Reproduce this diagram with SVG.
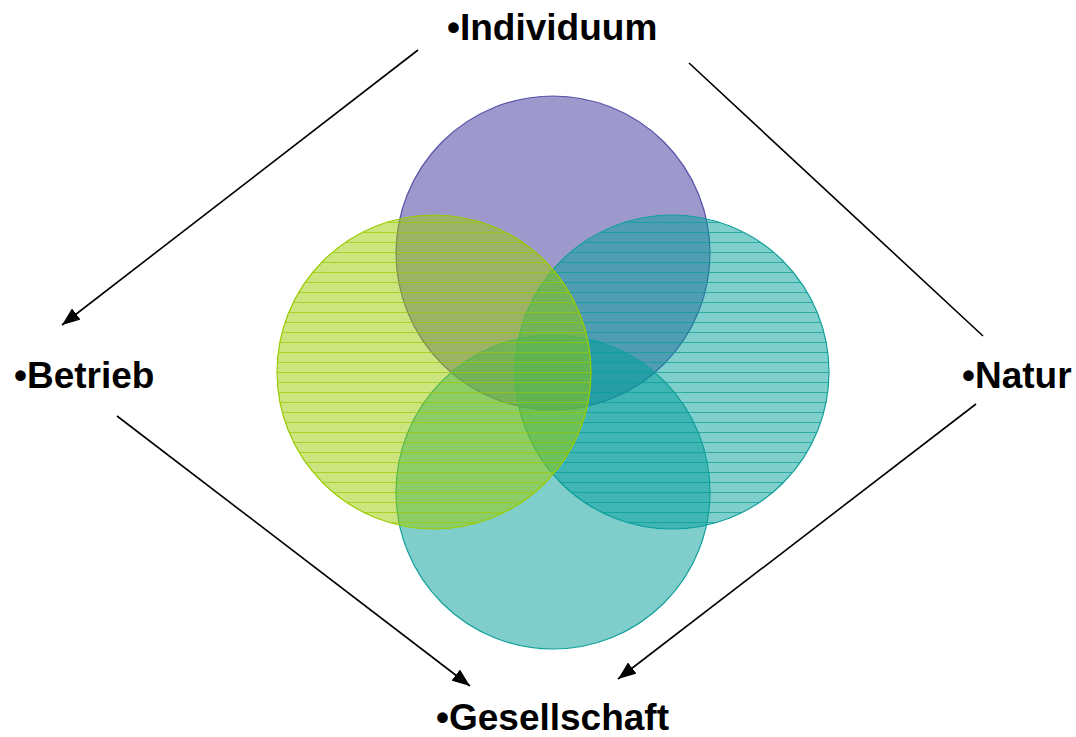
<svg xmlns="http://www.w3.org/2000/svg" width="1076" height="737" viewBox="0 0 1076 737">
<defs>
<pattern id="stripeG" width="10" height="10" patternUnits="userSpaceOnUse" y="2">
<rect width="10" height="10" fill="#99CC00" fill-opacity="0.5"/>
<rect y="0" width="10" height="1" fill="#99CC00" fill-opacity="0.7"/>
</pattern>
<pattern id="stripeT" width="10" height="10" patternUnits="userSpaceOnUse" y="2">
<rect width="10" height="10" fill="#00A09A" fill-opacity="0.5"/>
<rect y="0" width="10" height="1" fill="#0E9E96" fill-opacity="0.75"/>
</pattern>
<marker id="arrow" viewBox="0 0 18 14" refX="18" refY="7" markerWidth="18" markerHeight="14" markerUnits="userSpaceOnUse" orient="auto">
<path d="M0,0 L18,7 L0,14 z" fill="#000"/>
</marker>
</defs>
<style>
.lbl{font-family:"Liberation Sans",Arial,sans-serif;font-weight:bold;font-size:37px;fill:#000}
.conn{stroke:#000;stroke-width:1.6;fill:none}
</style>
<rect width="1076" height="737" fill="#fff"/>
<g id="circle-top">
<circle cx="553" cy="253" r="157" fill="#3D3399" fill-opacity="0.5" stroke="#3D3399" stroke-width="1.2" stroke-opacity="0.8"/>
</g>
<g id="circle-right">
<circle cx="672" cy="372" r="157" fill="url(#stripeT)" stroke="#13A09A" stroke-width="1.2"/>
</g>
<g id="circle-bottom">
<circle cx="553" cy="492" r="157" fill="#009E99" fill-opacity="0.5" stroke="#13A09A" stroke-width="1.2"/>
</g>
<g id="circle-left">
<circle cx="434" cy="372" r="157" fill="url(#stripeG)" stroke="#99CC00" stroke-width="1.2"/>
</g>
<g id="connectors">
<line class="conn" x1="418" y1="50" x2="62" y2="325" marker-end="url(#arrow)"/>
<line class="conn" x1="689" y1="63" x2="983" y2="336"/>
<line class="conn" x1="117" y1="416" x2="470" y2="686" marker-end="url(#arrow)"/>
<line class="conn" x1="976" y1="404" x2="618" y2="679" marker-end="url(#arrow)"/>
</g>
<g id="label-individuum"><text class="lbl" x="447" y="40">•Individuum</text></g>
<g id="label-betrieb"><text class="lbl" x="14" y="388">•Betrieb</text></g>
<g id="label-natur"><text class="lbl" x="962" y="388">•Natur</text></g>
<g id="label-gesellschaft"><text class="lbl" x="436" y="730">•Gesellschaft</text></g>
</svg>
